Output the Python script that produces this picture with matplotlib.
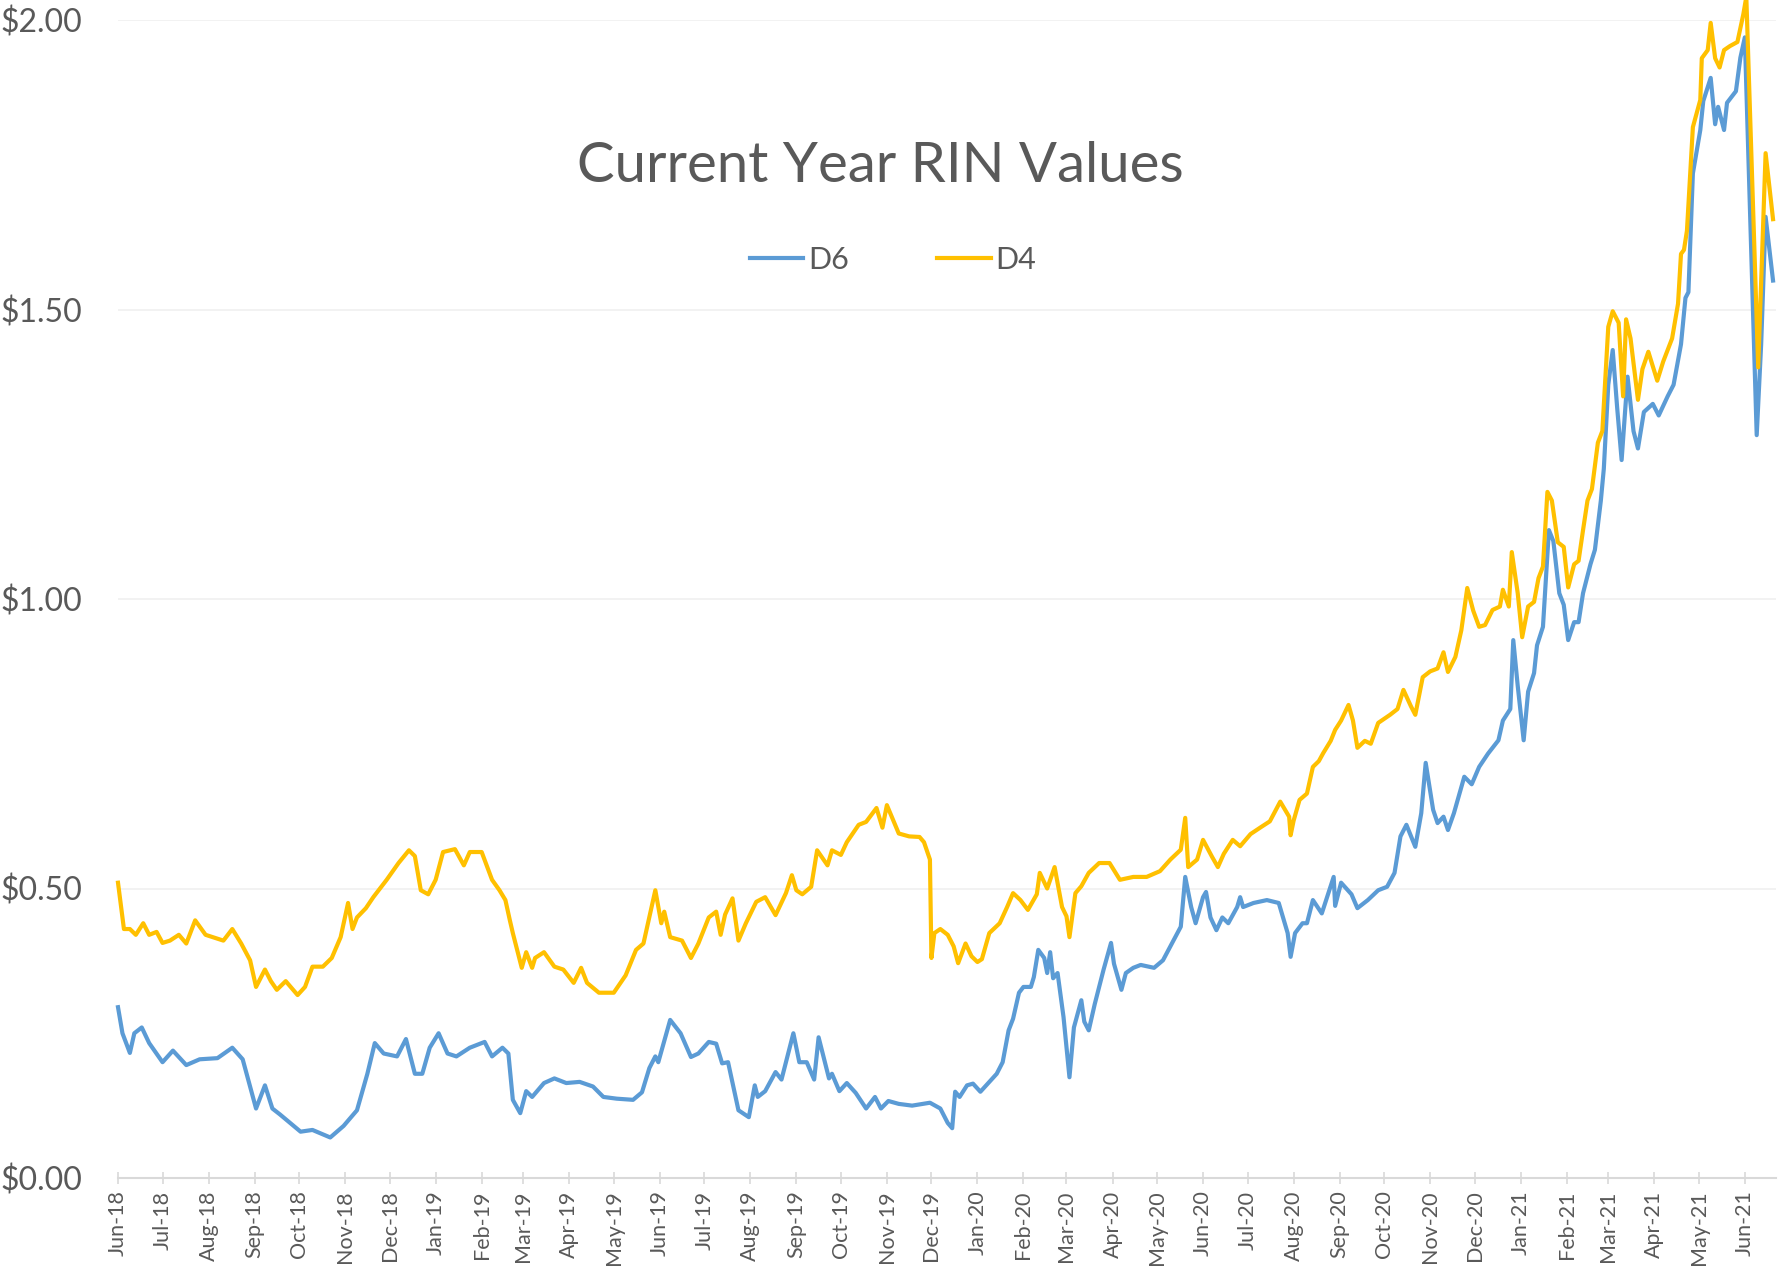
import matplotlib
matplotlib.use("Agg")
import matplotlib.pyplot as plt
import matplotlib.dates as mdates
import pandas as pd

title = "Current Year RIN Values"
series_names = ["D6", "D4"]

d6_dates = ["2018-06-01","2018-06-04","2018-06-09","2018-06-12","2018-06-17","2018-06-22","2018-07-01","2018-07-08","2018-07-17","2018-07-26",
"2018-08-07","2018-08-17","2018-08-24","2018-09-02","2018-09-08","2018-09-13","2018-09-18","2018-09-25","2018-10-02","2018-10-10",
"2018-10-22","2018-10-31","2018-11-09","2018-11-16","2018-11-21","2018-11-27","2018-12-06","2018-12-12","2018-12-18","2018-12-23",
"2018-12-28","2019-01-03","2019-01-09","2019-01-15","2019-01-24","2019-02-03","2019-02-08","2019-02-15","2019-02-19","2019-02-22",
"2019-02-27","2019-03-03","2019-03-07","2019-03-15","2019-03-22","2019-03-30","2019-04-08","2019-04-17","2019-04-24","2019-05-03",
"2019-05-14","2019-05-20","2019-05-25","2019-05-29","2019-05-31","2019-06-08","2019-06-15","2019-06-22","2019-06-27","2019-07-04",
"2019-07-09","2019-07-13","2019-07-17","2019-07-24","2019-07-31","2019-08-04","2019-08-06","2019-08-11","2019-08-18","2019-08-22",
"2019-08-30","2019-09-03","2019-09-08","2019-09-13","2019-09-16","2019-09-23","2019-09-25","2019-09-30","2019-10-05","2019-10-11",
"2019-10-18","2019-10-24","2019-10-28","2019-11-02","2019-11-09","2019-11-18","2019-11-30","2019-12-07","2019-12-12","2019-12-15",
"2019-12-17","2019-12-20","2019-12-25","2019-12-29","2020-01-03","2020-01-08","2020-01-14","2020-01-18","2020-01-22","2020-01-25",
"2020-01-29","2020-02-01","2020-02-06","2020-02-08","2020-02-11","2020-02-15","2020-02-17","2020-02-19","2020-02-21","2020-02-24",
"2020-02-28","2020-03-03","2020-03-06","2020-03-11","2020-03-13","2020-03-16","2020-03-20","2020-03-26","2020-03-31","2020-04-02",
"2020-04-07","2020-04-10","2020-04-15","2020-04-20","2020-04-29","2020-05-05","2020-05-10","2020-05-17","2020-05-20","2020-05-24",
"2020-05-27","2020-06-01","2020-06-03","2020-06-06","2020-06-10","2020-06-14","2020-06-18","2020-06-24","2020-06-26","2020-06-28",
"2020-07-05","2020-07-14","2020-07-22","2020-07-28","2020-07-30","2020-08-02","2020-08-07","2020-08-10","2020-08-14","2020-08-20",
"2020-08-28","2020-08-29","2020-09-02","2020-09-09","2020-09-13","2020-09-20","2020-09-27","2020-10-03","2020-10-08","2020-10-12",
"2020-10-16","2020-10-22","2020-10-26","2020-10-29","2020-11-03","2020-11-06","2020-11-10","2020-11-13","2020-11-17","2020-11-24",
"2020-11-29","2020-12-04","2020-12-10","2020-12-17","2020-12-20","2020-12-25","2020-12-27","2020-12-30","2021-01-03","2021-01-06",
"2021-01-10","2021-01-12","2021-01-16","2021-01-20","2021-01-23","2021-01-27","2021-01-30","2021-02-02","2021-02-06","2021-02-09",
"2021-02-12","2021-02-17","2021-02-20","2021-02-24","2021-02-26","2021-03-01","2021-03-04","2021-03-07","2021-03-10","2021-03-14",
"2021-03-18","2021-03-21","2021-03-25","2021-03-31","2021-04-04","2021-04-10","2021-04-14","2021-04-19","2021-04-22","2021-04-24",
"2021-04-27","2021-05-02","2021-05-04","2021-05-09","2021-05-12","2021-05-14","2021-05-18","2021-05-20","2021-05-26","2021-05-29",
"2021-06-01","2021-06-09","2021-06-12","2021-06-15","2021-06-20"]
d6_values = [0.295,0.25,0.216,0.25,0.26,0.233,0.20,0.22,0.195,0.205,
0.207,0.225,0.205,0.12,0.16,0.12,0.11,0.095,0.08,0.083,
0.07,0.09,0.117,0.18,0.233,0.215,0.21,0.24,0.18,0.18,
0.225,0.25,0.215,0.21,0.225,0.235,0.21,0.225,0.215,0.135,
0.112,0.15,0.14,0.164,0.172,0.164,0.166,0.158,0.14,0.137,
0.135,0.148,0.19,0.21,0.20,0.273,0.25,0.209,0.215,0.235,
0.232,0.198,0.20,0.117,0.105,0.16,0.14,0.15,0.183,0.17,
0.25,0.20,0.20,0.17,0.243,0.172,0.18,0.15,0.164,0.147,
0.12,0.14,0.12,0.133,0.128,0.125,0.13,0.12,0.095,0.086,
0.149,0.14,0.16,0.163,0.149,0.163,0.18,0.20,0.255,0.275,
0.32,0.33,0.33,0.347,0.394,0.38,0.354,0.39,0.345,0.354,
0.278,0.174,0.26,0.307,0.27,0.255,0.30,0.36,0.406,0.37,
0.325,0.354,0.363,0.368,0.363,0.376,0.40,0.434,0.52,0.468,
0.44,0.485,0.494,0.45,0.428,0.45,0.44,0.468,0.485,0.468,
0.475,0.48,0.475,0.423,0.382,0.423,0.44,0.44,0.48,0.457,
0.52,0.47,0.51,0.49,0.466,0.48,0.497,0.503,0.527,0.59,
0.61,0.572,0.63,0.717,0.636,0.613,0.624,0.601,0.63,0.693,
0.68,0.71,0.733,0.756,0.79,0.81,0.929,0.85,0.756,0.84,
0.872,0.92,0.952,1.119,1.10,1.01,0.99,0.929,0.96,0.96,
1.01,1.06,1.085,1.17,1.225,1.37,1.43,1.33,1.24,1.384,
1.29,1.26,1.323,1.337,1.317,1.35,1.37,1.44,1.52,1.53,
1.735,1.81,1.86,1.90,1.82,1.85,1.81,1.857,1.877,1.935,
1.97,1.283,1.44,1.66,1.55]

d4_dates = ["2018-06-01","2018-06-05","2018-06-09","2018-06-13","2018-06-18","2018-06-22","2018-06-27","2018-07-01","2018-07-06","2018-07-12",
"2018-07-17","2018-07-23","2018-07-30","2018-08-05","2018-08-11","2018-08-17","2018-08-23","2018-08-29","2018-09-02","2018-09-08",
"2018-09-12","2018-09-16","2018-09-22","2018-09-30","2018-10-05","2018-10-10","2018-10-17","2018-10-23","2018-10-29","2018-11-03",
"2018-11-06","2018-11-09","2018-11-15","2018-11-20","2018-11-29","2018-12-07","2018-12-14","2018-12-18","2018-12-22","2018-12-27",
"2019-01-01","2019-01-06","2019-01-14","2019-01-20","2019-01-24","2019-02-01","2019-02-08","2019-02-13","2019-02-17","2019-02-20",
"2019-02-22","2019-02-28","2019-03-03","2019-03-07","2019-03-09","2019-03-15","2019-03-22","2019-03-28","2019-04-04","2019-04-09",
"2019-04-13","2019-04-21","2019-05-01","2019-05-09","2019-05-16","2019-05-21","2019-05-29","2019-06-02","2019-06-04","2019-06-08",
"2019-06-16","2019-06-22","2019-06-27","2019-07-04","2019-07-09","2019-07-12","2019-07-15","2019-07-20","2019-07-24","2019-07-29",
"2019-08-05","2019-08-11","2019-08-18","2019-08-25","2019-08-29","2019-09-01","2019-09-05","2019-09-11","2019-09-15","2019-09-22",
"2019-09-25","2019-10-01","2019-10-05","2019-10-13","2019-10-18","2019-10-25","2019-10-29","2019-11-01","2019-11-09","2019-11-16",
"2019-11-23","2019-11-26","2019-11-30","2019-12-01","2019-12-03","2019-12-07","2019-12-12","2019-12-16","2019-12-19","2019-12-24",
"2019-12-28","2020-01-01","2020-01-04","2020-01-09","2020-01-16","2020-01-21","2020-01-25","2020-01-30","2020-02-04","2020-02-10",
"2020-02-12","2020-02-17","2020-02-22","2020-02-27","2020-03-01","2020-03-03","2020-03-07","2020-03-11","2020-03-16","2020-03-23",
"2020-03-30","2020-04-06","2020-04-15","2020-04-24","2020-05-03","2020-05-10","2020-05-17","2020-05-20","2020-05-22","2020-05-28",
"2020-06-01","2020-06-07","2020-06-11","2020-06-15","2020-06-21","2020-06-26","2020-07-03","2020-07-10","2020-07-16","2020-07-23",
"2020-07-29","2020-07-30","2020-08-01","2020-08-05","2020-08-10","2020-08-14","2020-08-18","2020-08-21","2020-08-26","2020-08-29",
"2020-09-02","2020-09-07","2020-09-10","2020-09-13","2020-09-18","2020-09-22","2020-09-27","2020-10-05","2020-10-10","2020-10-14",
"2020-10-19","2020-10-22","2020-10-27","2020-11-01","2020-11-06","2020-11-10","2020-11-13","2020-11-18","2020-11-22","2020-11-26",
"2020-11-30","2020-12-04","2020-12-08","2020-12-13","2020-12-18","2020-12-20","2020-12-24","2020-12-26","2020-12-30","2021-01-02",
"2021-01-06","2021-01-10","2021-01-13","2021-01-16","2021-01-19","2021-01-22","2021-01-26","2021-01-30","2021-02-02","2021-02-06",
"2021-02-09","2021-02-12","2021-02-15","2021-02-18","2021-02-22","2021-02-25","2021-03-01","2021-03-04","2021-03-08","2021-03-11",
"2021-03-13","2021-03-16","2021-03-21","2021-03-24","2021-03-28","2021-04-03","2021-04-07","2021-04-13","2021-04-17","2021-04-19",
"2021-04-21","2021-04-23","2021-04-27","2021-05-02","2021-05-03","2021-05-07","2021-05-09","2021-05-12","2021-05-15","2021-05-18",
"2021-05-22","2021-05-27","2021-05-31","2021-06-02","2021-06-10","2021-06-15","2021-06-20"]
d4_values = [0.51,0.43,0.43,0.42,0.44,0.42,0.425,0.406,0.41,0.42,
0.405,0.445,0.42,0.415,0.41,0.43,0.405,0.376,0.33,0.36,
0.34,0.325,0.34,0.316,0.33,0.365,0.365,0.38,0.416,0.475,
0.43,0.45,0.466,0.485,0.515,0.544,0.566,0.556,0.497,0.49,
0.515,0.563,0.568,0.54,0.563,0.563,0.515,0.497,0.48,0.445,
0.423,0.363,0.39,0.363,0.38,0.39,0.365,0.36,0.337,0.363,
0.337,0.32,0.32,0.35,0.394,0.405,0.497,0.44,0.46,0.416,
0.41,0.38,0.405,0.45,0.46,0.42,0.455,0.483,0.41,0.44,
0.477,0.485,0.454,0.492,0.523,0.497,0.49,0.503,0.566,0.54,
0.566,0.558,0.58,0.61,0.615,0.639,0.605,0.644,0.595,0.59,
0.589,0.58,0.55,0.38,0.423,0.43,0.42,0.40,0.371,0.405,
0.383,0.373,0.378,0.423,0.44,0.468,0.492,0.48,0.463,0.49,
0.527,0.50,0.537,0.468,0.452,0.416,0.492,0.504,0.527,0.544,
0.544,0.515,0.52,0.52,0.53,0.55,0.567,0.622,0.537,0.55,
0.584,0.555,0.537,0.56,0.584,0.573,0.594,0.606,0.616,0.65,
0.624,0.592,0.617,0.653,0.664,0.71,0.72,0.734,0.755,0.774,
0.79,0.817,0.79,0.743,0.755,0.75,0.786,0.80,0.81,0.843,
0.815,0.80,0.865,0.875,0.88,0.908,0.874,0.90,0.946,1.019,
0.98,0.952,0.955,0.981,0.987,1.016,0.987,1.081,1.01,0.934,
0.987,0.995,1.036,1.056,1.185,1.17,1.098,1.09,1.02,1.06,
1.066,1.119,1.17,1.19,1.27,1.29,1.47,1.497,1.477,1.35,
1.483,1.45,1.344,1.397,1.427,1.377,1.41,1.45,1.51,1.596,
1.603,1.636,1.815,1.862,1.934,1.948,1.995,1.934,1.918,1.948,
1.955,1.962,2.01,2.04,1.40,1.77,1.656]

y_ticks = [0.0, 0.5, 1.0, 1.5, 2.0]
y_tick_labels = ["$0.00", "$0.50", "$1.00", "$1.50", "$2.00"]

colors = {"D6": "#5B9BD5", "D4": "#FFC000"}
text_color = "#595959"

plt.rcParams["font.family"] = ["Lato", "DejaVu Sans"]

fig = plt.figure(figsize=(17.83, 12.66), dpi=100)
ax = fig.add_axes([118/1783, 1 - 1178/1266, (1776-118)/1783, (1178-20)/1266])

x6 = pd.to_datetime(d6_dates)
x4 = pd.to_datetime(d4_dates)
l6, = ax.plot(x6, d6_values, color=colors["D6"], lw=3.0, clip_on=False, solid_joinstyle="round", label="D6")
l4, = ax.plot(x4, d4_values, color=colors["D4"], lw=3.0, clip_on=False, solid_joinstyle="round", label="D4")

ax.set_ylim(0, 2.0)
ax.set_xlim(pd.Timestamp("2018-06-01"), pd.Timestamp("2021-06-22"))
ax.set_yticks(y_ticks)
ax.set_yticklabels(y_tick_labels)
ax.grid(axis="y", color="#f0f0f0", lw=1.2)
ax.set_axisbelow(True)

for s in ["top", "right", "left"]:
    ax.spines[s].set_visible(False)
ax.spines["bottom"].set_color("#d9d9d9")
ax.spines["bottom"].set_linewidth(1.5)

ax.xaxis.set_major_locator(mdates.MonthLocator())
ax.xaxis.set_major_formatter(mdates.DateFormatter("%b-%y"))
ax.tick_params(axis="x", direction="inout", length=8, width=1.2, color="#d9d9d9",
               labelsize=15.5, labelcolor=text_color, rotation=90, pad=5)
ax.tick_params(axis="y", length=0, labelsize=23, labelcolor=text_color, pad=26)

fig.text(880/1783, 1 - 167/1266, title, ha="center", va="center", fontsize=40.5, color=text_color)

leg = fig.legend(handles=[l6, l4], loc="center", bbox_to_anchor=(893/1783, 1 - 260/1266),
                 ncol=2, frameon=False, fontsize=22, handlelength=1.75, handletextpad=0.15,
                 columnspacing=2.9, labelcolor=text_color)
for h in leg.get_lines():
    h.set_linewidth(3.0)

fig.savefig("out.png", dpi=100)
